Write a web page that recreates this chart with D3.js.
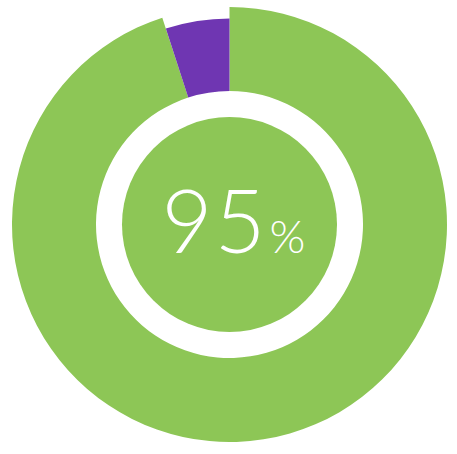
<!DOCTYPE html>
<html>
<head>
<meta charset="utf-8">
<script src="https://cdn.jsdelivr.net/npm/d3@7"></script>
<style>
html,body{margin:0;padding:0;background:#fff;}
svg{display:block;}
</style>
</head>
<body>
<svg id="chart" width="457" height="454"></svg>
<script>
const categories = ["Complete", "Remaining"];
const values = [95, 5];
const colors = ["#8DC656", "#6F36B2"];
const centerLabel = "95";
const centerUnit = "%";

const svg = d3.select("#chart");
const cx = 229.5, cy = 224.5;
const g = svg.append("g").attr("transform", `translate(${cx},${cy})`);

const pie = d3.pie().sort(null).value(d => d.v);
const arcs = pie(categories.map((c, i) => ({c, v: values[i], i})));

const outerR = [217.5, 206];
g.selectAll("path.slice").data(arcs).enter().append("path")
  .attr("class", "slice")
  .attr("fill", d => colors[d.data.i])
  .attr("d", d => d3.arc().innerRadius(133.5).outerRadius(outerR[d.data.i])(d));

g.append("circle").attr("r", 107.5).attr("fill", colors[0]);

const t = g.append("text")
  .attr("text-anchor", "middle")
  .attr("x", 4)
  .attr("y", 28)
  .attr("fill", "#fff")
  .style("font-family", "Lato, 'Open Sans', sans-serif")
  .style("font-weight", 300);
t.append("tspan").style("font-size", "88px").style("letter-spacing", "2px").text(centerLabel);
t.append("tspan").style("font-size", "46px").attr("dx", 2).text(centerUnit);
</script>
</body>
</html>
